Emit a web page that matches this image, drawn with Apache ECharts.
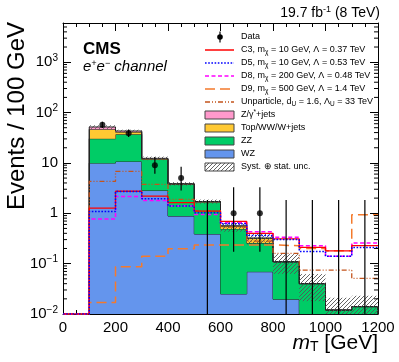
<!DOCTYPE html>
<html><head><meta charset="utf-8">
<script src="https://cdn.jsdelivr.net/npm/echarts@6/dist/echarts.min.js"></script>
<style>html,body{margin:0;padding:0;background:#fff}#c{width:399px;height:362px}</style>
</head><body><div id="c"></div>
<script>
// ---------- data ----------
const binEdges = [100,200,300,400,500,600,700,800,900,1000,1100,1200];
const dataCounts = [57,39,9,5,0,1,1,0,0,0,0];
const dataErrLow = [49.5,32.8,6.1,2.84,0,0.173,0.173,0,0,0,0];
const dataErrHigh = [65.6,46.3,13.1,8.38,1.84,3.30,3.30,1.84,1.84,1.84,1.84];
const bkgWZ = [9.9,10.7,2.83,0.88,0.387,0.025,0.069,0.0196,0,0,0];
const bkgZZ = [20.3,26.3,8.9,2.87,1.27,0.465,0.187,0.089,0.040,0.012,0.014];
const bkgTop = [16.3,4.0,0.3,0.1,0.05,0.07,0.064,0,0,0,0];
const bkgDY = [5.2,2.0,0.3,0,0,0,0,0,0,0,0];
const systUnc = [4.2,2.6,1.0,0.3,0.16,0.13,0.08,0.046,0.022,0.009,0.009];
const sigC3 = [1.26,2.74,2.2,1.62,1.1,0.69,0.40,0.31,0.21,0.18,0.227];
const sigD5 = [1.08,2.7,1.95,1.40,1.02,0.62,0.36,0.30,0.175,0.14,0.21];
const sigD8 = [0.77,2.15,1.8,1.40,0.95,0.65,0.43,0.333,0.227,0.14,0.256];
const sigD9 = [0.0169,0.0867,0.14,0.197,0.235,0.235,0.235,0.227,0.2,0.18,0.93];
const sigUnp = [4.28,6.77,3.75,1.88,1.13,0.53,0.28,0.16,0.074,0.074,0.051];

// ---------- helpers ----------
const FONT = "'Liberation Sans', Arial, Helvetica, sans-serif";
const yMin = 0.01, yMax = 6000;
const nb = bkgWZ.length;
const cum = (arrs) => arrs[0].map((_, i) => arrs.reduce((s, a) => s + a[i], 0));
const cumWZ = cum([bkgWZ]);
const cumZZ = cum([bkgWZ, bkgZZ]);
const cumTop = cum([bkgWZ, bkgZZ, bkgTop]);
const cumDY = cum([bkgWZ, bkgZZ, bkgTop, bkgDY]);
const zeros = bkgWZ.map(() => 0);
const clampY = v => Math.max(v, yMin);

function hatchCanvas(color) {
  const c = document.createElement('canvas');
  c.width = 4; c.height = 4;
  const g = c.getContext('2d');
  g.strokeStyle = color; g.lineWidth = 0.9;
  g.beginPath();
  g.moveTo(0, 4); g.lineTo(4, 0);
  g.moveTo(-1, 1); g.lineTo(1, -1);
  g.moveTo(3, 5); g.lineTo(5, 3);
  g.stroke();
  return c;
}
const hatch = hatchCanvas('#555');

function stackSeries(name, lower, upper, color, z) {
  return {
    type: 'custom', name, z, silent: true, data: [0],
    renderItem(params, api) {
      const top = [];
      for (let i = 0; i < nb; i++) {
        const y = clampY(upper[i]);
        top.push(api.coord([binEdges[i], y]), api.coord([binEdges[i + 1], y]));
      }
      const bot = [];
      for (let i = nb - 1; i >= 0; i--) {
        const y = clampY(lower[i]);
        bot.push(api.coord([binEdges[i + 1], y]), api.coord([binEdges[i], y]));
      }
      const outline = [api.coord([binEdges[0], yMin])].concat(top, [api.coord([binEdges[nb], yMin])]);
      return {
        type: 'group', children: [
          { type: 'polygon', shape: { points: top.concat(bot) }, style: { fill: color } },
          { type: 'polyline', shape: { points: outline }, style: { stroke: '#222', lineWidth: 1, fill: null } }
        ]
      };
    }
  };
}

function stepPoints(vals) {
  const pts = [[0, yMin], [binEdges[0], yMin]];
  vals.forEach((v, i) => { pts.push([binEdges[i], v], [binEdges[i + 1], v]); });
  return pts;
}
function sigSeries(name, vals, color, dash, w) {
  return {
    type: 'line', name, data: stepPoints(vals), showSymbol: false, symbol: 'none',
    z: 6, silent: true, clip: true, animation: false,
    lineStyle: { color, width: w, type: dash }
  };
}

const centers = binEdges.slice(0, -1).map((e, i) => (e + binEdges[i + 1]) / 2);

// minor ticks for log axis
const minorVals = [];
for (let d = -2; d <= 3; d++) for (let k = 2; k <= 9; k++) {
  const v = k * Math.pow(10, d);
  if (v < yMax) minorVals.push(v);
}

const series = [
  stackSeries('WZ', zeros, cumWZ, '#6495ed', 1),
  stackSeries('ZZ', cumWZ, cumZZ, '#00cc66', 2),
  stackSeries('Top/WW/W+jets', cumZZ, cumTop, '#ffc933', 3),
  stackSeries('Z/γ*+jets', cumTop, cumDY, '#ff99cc', 4),
  {
    type: 'custom', name: 'unc', z: 5, silent: true,
    data: cumDY.map((t, i) => [i]),
    renderItem(params, api) {
      const i = api.value(0);
      const t = cumDY[i];
      const hi = t + systUnc[i], lo = clampY(t - systUnc[i]);
      if (hi <= yMin) return null;
      const p1 = api.coord([binEdges[i], hi]);
      const p2 = api.coord([binEdges[i + 1], lo]);
      return { type: 'rect', shape: { x: p1[0], y: p1[1], width: p2[0] - p1[0], height: p2[1] - p1[1] },
        style: { fill: { image: hatch, repeat: 'repeat' } } };
    }
  },
  sigSeries('Unparticle', sigUnp, '#c4541c', [5, 2, 1, 2, 1, 2], 1.3),
  sigSeries('D9', sigD9, '#f47a2c', [10, 5], 1.5),
  sigSeries('D8', sigD8, '#ff00ff', [4, 2.5], 1.5),
  sigSeries('C3', sigC3, '#ff0000', 'solid', 1.3),
  sigSeries('D5', sigD5, '#0000ff', [1.6, 1.6], 1.5),
  {
    type: 'custom', name: 'dataErr', z: 8, silent: true,
    data: centers.map((c, i) => [i]),
    renderItem(params, api) {
      const i = api.value(0);
      const a = api.coord([centers[i], clampY(dataErrLow[i] || yMin * 0.5)]);
      const b = api.coord([centers[i], dataErrHigh[i]]);
      return { type: 'line', shape: { x1: a[0], y1: a[1], x2: b[0], y2: b[1] }, style: { stroke: '#000', lineWidth: 1.2 } };
    }
  },
  {
    type: 'scatter', name: 'Data', z: 9, silent: true, symbol: 'circle', symbolSize: 6,
    itemStyle: { color: '#000' },
    data: centers.map((c, i) => dataCounts[i] > 0 ? [c, dataCounts[i]] : null).filter(d => d)
  },
  {
    type: 'custom', name: 'minorTicks', z: 10, silent: true,
    data: minorVals.map(v => [v]),
    renderItem(params, api) {
      const v = api.value(0);
      const l = api.coord([0, v]), r = api.coord([1200, v]);
      return { type: 'group', children: [
        { type: 'line', shape: { x1: l[0], y1: l[1], x2: l[0] + 4, y2: l[1] }, style: { stroke: '#000', lineWidth: 1 } },
        { type: 'line', shape: { x1: r[0], y1: r[1], x2: r[0] - 4, y2: r[1] }, style: { stroke: '#000', lineWidth: 1 } }
      ] };
    }
  }
];

const axisCommon = {
  axisLine: { show: true, onZero: false, lineStyle: { color: '#000', width: 1 } },
  axisTick: { show: true, inside: true, length: 8, lineStyle: { color: '#000' } },
  splitLine: { show: false }
};

const legendRows = [
  { kind: 'data', text: 'Data' },
  { kind: 'line', color: '#ff0000', dash: null, text: 'C3, m{sub|χ} = 10 GeV, Λ = 0.37 TeV' },
  { kind: 'line', color: '#0000ff', dash: [1.6, 1.6], text: 'D5, m{sub|χ} = 10 GeV, Λ = 0.53 TeV' },
  { kind: 'line', color: '#ff00ff', dash: [4, 2.5], text: 'D8, m{sub|χ} = 200 GeV, Λ = 0.48 TeV' },
  { kind: 'line', color: '#f47a2c', dash: [10, 5], text: 'D9, m{sub|χ} = 500 GeV, Λ = 1.4 TeV' },
  { kind: 'line', color: '#c4541c', dash: [5, 2, 1, 2, 1, 2], text: 'Unparticle, d{sub|U} = 1.6, Λ{sub|U} = 33 TeV' },
  { kind: 'box', color: '#ff99cc', text: 'Z/γ{sup|*}+jets' },
  { kind: 'box', color: '#ffc933', text: 'Top/WW/W+jets' },
  { kind: 'box', color: '#00cc66', text: 'ZZ' },
  { kind: 'box', color: '#6495ed', text: 'WZ' },
  { kind: 'hatch', text: 'Syst. ⊕ stat. unc.' }
];
const legendGraphics = [];
legendRows.forEach((r, i) => {
  const y = 37 + 13 * i;
  const x0 = 205, x1 = 234;
  if (r.kind === 'data') {
    legendGraphics.push({ type: 'line', shape: { x1: 220, y1: y - 5.5, x2: 220, y2: y + 5.5 }, style: { stroke: '#000', lineWidth: 1.2 } });
    legendGraphics.push({ type: 'circle', shape: { cx: 220, cy: y, r: 2.8 }, style: { fill: '#000' } });
  } else if (r.kind === 'line') {
    legendGraphics.push({ type: 'line', shape: { x1: x0, y1: y, x2: x1, y2: y }, style: { stroke: r.color, lineWidth: 1.5, lineDash: r.dash } });
  } else if (r.kind === 'box') {
    legendGraphics.push({ type: 'rect', shape: { x: x0, y: y - 4, width: x1 - x0, height: 8 }, style: { fill: r.color, stroke: '#444', lineWidth: 1 } });
  } else {
    legendGraphics.push({ type: 'rect', shape: { x: x0, y: y - 4, width: x1 - x0, height: 8 }, style: { fill: { image: hatch, repeat: 'repeat' }, stroke: '#444', lineWidth: 1 } });
  }
  legendGraphics.push({ type: 'text', x: 241, y: y, style: {
    text: r.text, font: '9px ' + FONT, fill: '#000', textVerticalAlign: 'middle', verticalAlign: 'middle',
    rich: { sub: { fontSize: 6.5, fontFamily: FONT, padding: [5, 0, 0, 0] }, sup: { fontSize: 6.5, fontFamily: FONT, padding: [0, 0, 5, 0] } }
  } });
});

const chart = echarts.init(document.getElementById('c'), null, { renderer: 'canvas' });
chart.setOption({
  animation: false,
  backgroundColor: '#fff',
  grid: { left: 63, right: 21, top: 23, bottom: 48 },
  xAxis: [
    Object.assign({}, axisCommon, {
      type: 'value', min: 0, max: 1200, interval: 200, position: 'bottom',
      minorTick: { show: true, splitNumber: 4, length: 4, lineStyle: { color: '#000' } },
      axisLabel: { fontFamily: FONT, fontSize: 15, color: '#000', margin: 6, formatter: v => String(v) }
    }),
    Object.assign({}, axisCommon, {
      type: 'value', min: 0, max: 1200, interval: 200, position: 'top',
      minorTick: { show: true, splitNumber: 4, length: 4, lineStyle: { color: '#000' } },
      axisLabel: { show: false }
    })
  ],
  yAxis: [
    Object.assign({}, axisCommon, {
      type: 'log', logBase: 10, min: yMin, max: yMax, position: 'left',
      axisLabel: {
        fontFamily: FONT, fontSize: 15, color: '#000', margin: 5, showMaxLabel: false,
        formatter: v => {
          const e = Math.round(Math.log10(v));
          if (Math.abs(v - Math.pow(10, e)) > 1e-9 * Math.pow(10, e)) return '';
          if (e === 0) return '1';
          if (e === 1) return '10';
          return '10{sup|' + (e < 0 ? '−' + (-e) : e) + '}';
        },
        rich: { sup: { fontSize: 10, fontFamily: FONT, color: '#000', padding: [0, 0, 8, 0] } }
      }
    }),
    Object.assign({}, axisCommon, {
      type: 'log', logBase: 10, min: yMin, max: yMax, position: 'right',
      axisLabel: { show: false }
    })
  ],
  series,
  graphic: [
    { type: 'text', right: 19, top: 5, style: { text: '19.7 fb{sup|-1} (8 TeV)', font: '14px ' + FONT, fill: '#000',
      rich: { sup: { fontSize: 9, fontFamily: FONT, padding: [0, 0, 7, 0] } } } },
    { type: 'text', x: 83, y: 49, style: { text: 'CMS', font: 'bold 17px ' + FONT, fill: '#000', textVerticalAlign: 'middle', verticalAlign: 'middle' } },
    { type: 'text', x: 83, y: 67, style: { text: 'e{sup|+}e{sup|−} channel', font: 'italic 15px ' + FONT, fill: '#000', textVerticalAlign: 'middle', verticalAlign: 'middle',
      rich: { sup: { fontSize: 9, fontStyle: 'italic', fontFamily: FONT, padding: [0, 0, 8, 0] } } } },
    { type: 'text', x: 17, y: 22, rotation: Math.PI / 2, style: { text: 'Events / 100 GeV', font: '24px ' + FONT, fill: '#000',
      textAlign: 'right', align: 'right', textVerticalAlign: 'middle', verticalAlign: 'middle' } },
    { type: 'text', x: 378, y: 343, style: { text: '{m|m}{sub|T} [GeV]', font: '21px ' + FONT, fill: '#000',
      textAlign: 'right', align: 'right', textVerticalAlign: 'middle', verticalAlign: 'middle',
      rich: { m: { fontSize: 21, fontStyle: 'italic', fontFamily: FONT }, sub: { fontSize: 14, fontFamily: FONT, padding: [8, 0, 0, 0] } } } }
  ].concat(legendGraphics)
});
</script></body></html>
